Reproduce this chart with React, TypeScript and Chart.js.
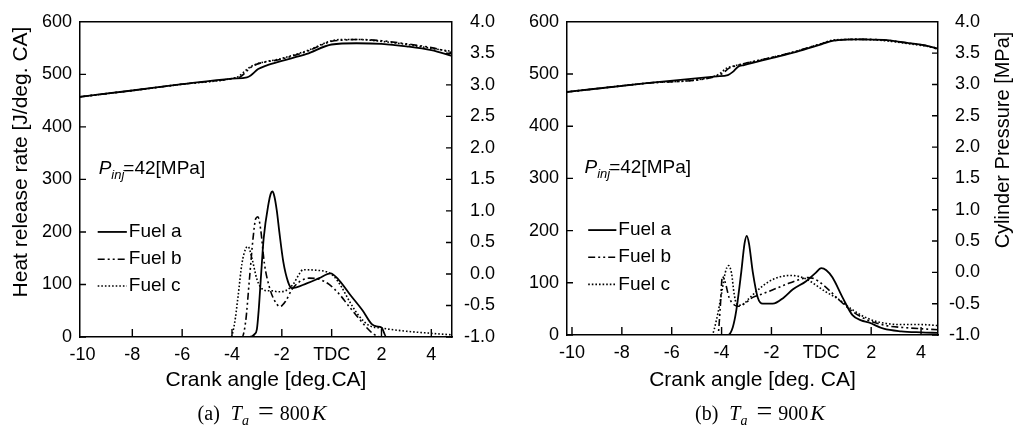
import React, { useEffect, useRef } from "react";
import { Chart, registerables } from "chart.js";

Chart.register(...registerables);

// ---------------- Axis ticks / labels ----------------
const CRANK_TICKS = [-10, -8, -6, -4, -2, 0, 2, 4];
const CRANK_TICK_LABELS = ["-10", "-8", "-6", "-4", "-2", "TDC", "2", "4"];
const FUEL_NAMES = ["Fuel a", "Fuel b", "Fuel c"];

// ---------------- (a) Ta = 800 K : heat release rate [J/deg.CA] ----------------
const HRR800_A_CA = [-10.1, -3.3, -3.1, -3.0, -2.93, -2.83, -2.73, -2.53, -2.45, -2.38, -2.3, -2.2, -2.1, -1.94, -1.75, -1.6, -1.0, -0.5, -0.05, 0.3, 0.75, 1.25, 1.6, 1.8, 2.0, 2.2, 4.83];
const HRR800_A = [0, 0, 5, 15, 50, 120, 187, 255, 272, 277, 268, 240, 200, 143, 105, 93, 102, 112, 121, 108, 80, 50, 25, 20, 18, 0, 0];
const HRR800_B_CA = [-10.1, -3.6, -3.45, -3.3, -3.15, -3.05, -2.96, -2.85, -2.7, -2.5, -2.3, -2.07, -1.85, -1.6, -1.3, -0.9, -0.5, -0.1, 0.3, 0.7, 1.1, 1.4, 1.7, 2.0, 4.83];
const HRR800_B = [0, 0, 30, 110, 190, 225, 229, 205, 140, 95, 70, 58, 68, 90, 105, 112, 110, 100, 82, 58, 35, 18, 5, 0, 0];
const HRR800_C_CA = [-10.1, -4.05, -3.9, -3.75, -3.6, -3.45, -3.35, -3.2, -3.0, -2.8, -2.55, -2.4, -2.15, -1.85, -1.55, -1.3, -1.15, -0.6, -0.2, 0.1, 0.4, 0.75, 1.1, 1.5, 2.0, 3.0, 4.0, 4.83];
const HRR800_C = [0, 0, 25, 80, 140, 168, 172, 150, 110, 92, 88, 88, 86, 88, 100, 120, 128, 127, 124, 115, 95, 65, 40, 22, 17, 11, 7, 4];

// ---------------- (a) Ta = 800 K : cylinder pressure [MPa] ----------------
const P800_A_CA = [-10.1, -8, -6, -4, -3.4, -3.25, -2.95, -2.6, -2, -1, 0, 1, 2, 3, 4, 4.83];
const P800_A = [2.81, 2.91, 3.01, 3.1, 3.12, 3.15, 3.25, 3.31, 3.38, 3.49, 3.64, 3.66, 3.65, 3.61, 3.55, 3.46];
const P800_B_CA = [-10.1, -8, -6, -4, -3.65, -3.4, -3.15, -2, -1, 0, 0.5, 1, 2, 3, 4, 4.83];
const P800_B = [2.81, 2.91, 3.01, 3.1, 3.13, 3.22, 3.3, 3.41, 3.53, 3.69, 3.71, 3.72, 3.7, 3.65, 3.59, 3.51];
const P800_C_CA = [-10.1, -8, -6, -4, -3.75, -3.45, -3.2, -2, -1, 0, 0.5, 1, 2, 3, 4, 4.83];
const P800_C = [2.81, 2.91, 3.01, 3.1, 3.13, 3.23, 3.3, 3.42, 3.54, 3.7, 3.72, 3.72, 3.69, 3.64, 3.58, 3.53];

// ---------------- (b) Ta = 900 K : heat release rate [J/deg.CA] ----------------
const HRR900_A_CA = [-10.2, -3.75, -3.55, -3.41, -3.21, -3.08, -2.99, -2.9, -2.75, -2.55, -2.35, -1.95, -1.5, -1.15, -0.61, -0.25, 0, 0.2, 0.45, 0.85, 1.25, 1.6, 1.9, 2.5, 3.2, 4.0, 4.68];
const HRR900_A = [0, 0, 15, 47, 121, 175, 190, 175, 121, 72, 60, 60, 72, 87, 103, 118, 128, 124, 110, 72, 38, 28, 24, 12, 7, 5, 4];
const HRR900_B_CA = [-10.2, -4.15, -4.05, -3.97, -3.85, -3.7, -3.5, -3.35, -3.0, -2.75, -2.4, -2.08, -1.41, -0.9, -0.55, -0.3, 0.05, 0.4, 0.65, 1.2, 1.75, 2.6, 3.4, 4.0, 4.68];
const HRR900_B = [0, 0, 55, 112, 100, 72, 58, 55, 63, 72, 78, 84, 97, 106, 110, 108, 97, 82, 70, 47, 31, 18, 14, 12, 10];
const HRR900_C_CA = [-10.2, -4.4, -4.2, -4.0, -3.85, -3.72, -3.6, -3.5, -3.4, -3.2, -2.9, -2.5, -2.08, -1.6, -1.2, -0.88, -0.55, -0.2, 0.2, 0.65, 1.2, 1.85, 2.6, 3.4, 4.0, 4.68];
const HRR900_C = [0, 0, 30, 80, 120, 133, 118, 80, 60, 57, 70, 88, 103, 112, 114, 112, 106, 95, 82, 70, 50, 32, 22, 20, 20, 18];

// ---------------- (b) Ta = 900 K : cylinder pressure [MPa] ----------------
const P900_A_CA = [-10.2, -7, -4.2, -3.75, -3.55, -3.35, -3.1, -2, -1, 0, 0.5, 1.5, 2.5, 3.5, 4.2, 4.68];
const P900_A = [2.88, 3.02, 3.13, 3.15, 3.2, 3.28, 3.31, 3.42, 3.52, 3.64, 3.7, 3.72, 3.71, 3.66, 3.62, 3.57];
const P900_B_CA = [-10.2, -7, -4.2, -3.95, -3.7, -3.4, -2, -1, 0, 0.5, 1.5, 2.5, 3.5, 4.2, 4.68];
const P900_B = [2.88, 3.02, 3.13, 3.18, 3.26, 3.3, 3.43, 3.53, 3.65, 3.7, 3.72, 3.71, 3.66, 3.62, 3.56];
const P900_C_CA = [-10.2, -7, -4.3, -4.05, -3.8, -3.45, -2, -1, 0, 0.5, 1.5, 2.5, 3.5, 4.2, 4.68];
const P900_C = [2.88, 3.02, 3.13, 3.18, 3.26, 3.3, 3.43, 3.53, 3.65, 3.71, 3.72, 3.7, 3.65, 3.61, 3.58];

// ---------------- styling ----------------
const FONT = '"Liberation Sans", Arial, sans-serif';
const SERIF = '"Liberation Serif", "Times New Roman", serif';
const FUEL_DASH: number[][] = [[], [7, 3, 2, 3, 2, 3], [1.6, 2]];
const FUEL_WIDTH = [1.8, 1.6, 1.6];

type PanelCfg = {
  left: number;
  width: number;
  height: number;
  areaLeft: number;
  areaRight: number;
  labelRight: number;
  areaTop: number;
  areaBottom: number;
  xMin: number;
  xMax: number;
  xTitle: string;
  hrr: [number[], number[]][];
  press: [number[], number[]][];
  yTitle: { text: string; x: number; y: number; size: number } | null;
  legendX0: number;
  legendX1: number;
  legendRows: number[];
  pinjX: number;
  pinjY: number;
};

const zip = (xs: number[], ys: number[]) => xs.map((x, i) => ({ x, y: ys[i] }));

function makeDecor(cfg: PanelCfg) {
  return {
    id: "decor",
    afterDraw(chart: any) {
      const { ctx, chartArea: ca, scales } = chart;
      const x = scales.x;
      const yL = scales.yL;
      const yR = scales.yR;
      ctx.save();
      // inward tick marks + top frame
      ctx.strokeStyle = "#000";
      ctx.lineWidth = 1.4;
      ctx.setLineDash([]);
      ctx.beginPath();
      for (const t of x.ticks) {
        const px = x.getPixelForValue(t.value);
        if (px <= ca.left + 3) continue;
        ctx.moveTo(px, ca.bottom);
        ctx.lineTo(px, ca.bottom - 8);
      }
      for (const t of yL.ticks) {
        const py = yL.getPixelForValue(t.value);
        ctx.moveTo(ca.left, py);
        ctx.lineTo(ca.left + 6, py);
      }
      for (const t of yR.ticks) {
        const py = yR.getPixelForValue(t.value);
        ctx.moveTo(ca.right, py);
        ctx.lineTo(ca.right - 6, py);
      }
      ctx.moveTo(ca.left, ca.top);
      ctx.lineTo(ca.right, ca.top);
      ctx.stroke();

      // legend
      ctx.fillStyle = "#000";
      ctx.textBaseline = "middle";
      ctx.textAlign = "left";
      ctx.font = `19px ${FONT}`;
      const lx0 = x.getPixelForValue(cfg.legendX0);
      const lx1 = x.getPixelForValue(cfg.legendX1);
      FUEL_NAMES.forEach((name, i) => {
        const py = yL.getPixelForValue(cfg.legendRows[i]);
        ctx.setLineDash(FUEL_DASH[i]);
        ctx.lineWidth = FUEL_WIDTH[i];
        ctx.beginPath();
        ctx.moveTo(lx0, py);
        ctx.lineTo(lx1, py);
        ctx.stroke();
        ctx.setLineDash([]);
        ctx.fillText(name, lx1 + 2, py);
      });

      // P_inj annotation
      const ax = x.getPixelForValue(cfg.pinjX);
      const ay = yL.getPixelForValue(cfg.pinjY);
      ctx.font = `italic 19px ${FONT}`;
      ctx.fillText("P", ax, ay);
      let w = ctx.measureText("P").width;
      ctx.font = `italic 13px ${FONT}`;
      ctx.fillText("inj", ax + w, ay + 6);
      w += ctx.measureText("inj").width;
      ctx.font = `19px ${FONT}`;
      ctx.fillText("=42[MPa]", ax + w - 1, ay);

      // rotated y title (reads bottom to top)
      if (cfg.yTitle) {
        ctx.save();
        ctx.translate(cfg.yTitle.x, cfg.yTitle.y);
        ctx.rotate(-Math.PI / 2);
        ctx.textAlign = "center";
        ctx.textBaseline = "middle";
        ctx.font = `${cfg.yTitle.size}px ${FONT}`;
        ctx.fillText(cfg.yTitle.text, 0, 0);
        ctx.restore();
      }
      ctx.restore();
    },
  };
}

function Panel({ cfg }: { cfg: PanelCfg }) {
  const ref = useRef<HTMLCanvasElement>(null);
  useEffect(() => {
    const datasets: any[] = [];
    cfg.press.forEach(([xs, ys], i) => {
      datasets.push({
        label: FUEL_NAMES[i] + " pressure",
        data: zip(xs, ys),
        yAxisID: "yR",
        borderColor: "#000",
        borderWidth: FUEL_WIDTH[i],
        borderDash: FUEL_DASH[i],
        pointRadius: 0,
        fill: false,
        cubicInterpolationMode: "monotone",
      });
    });
    cfg.hrr.forEach(([xs, ys], i) => {
      datasets.push({
        label: FUEL_NAMES[i],
        data: zip(xs, ys),
        yAxisID: "yL",
        borderColor: "#000",
        borderWidth: FUEL_WIDTH[i],
        borderDash: FUEL_DASH[i],
        pointRadius: 0,
        fill: false,
        cubicInterpolationMode: "monotone",
      });
    });
    const tickFont = { family: FONT, size: 18 };
    const chart = new Chart(ref.current!, {
      type: "line",
      data: { datasets },
      plugins: [makeDecor(cfg)],
      options: {
        responsive: false,
        animation: false,
        devicePixelRatio: 1,
        layout: { padding: { top: cfg.areaTop, left: 0, right: cfg.width - cfg.labelRight, bottom: 0 } },
        plugins: { legend: { display: false }, tooltip: { enabled: false }, title: { display: false } },
        scales: {
          x: {
            type: "linear",
            min: cfg.xMin,
            max: cfg.xMax,
            afterBuildTicks: (s: any) => {
              s.ticks = CRANK_TICKS.map((v) => ({ value: v }));
            },
            afterFit: (s: any) => {
              s.height = cfg.height - cfg.areaBottom;
            },
            ticks: {
              autoSkip: false,
              maxRotation: 0,
              padding: 7,
              color: "#000",
              font: tickFont,
              callback: (v: any) => {
                const idx = CRANK_TICKS.indexOf(Number(v));
                return idx >= 0 ? CRANK_TICK_LABELS[idx] : "";
              },
            },
            grid: { display: false, drawTicks: false },
            border: { display: true, color: "#000", width: 1.5 },
            title: {
              display: true,
              text: cfg.xTitle,
              color: "#000",
              font: { family: FONT, size: 21 },
              padding: { top: 0, bottom: 7 },
            },
          },
          yL: {
            type: "linear",
            position: "left",
            min: 0,
            max: 600,
            afterFit: (s: any) => {
              s.width = cfg.areaLeft;
            },
            ticks: { stepSize: 100, padding: 8, color: "#000", font: tickFont },
            grid: { display: false, drawTicks: false },
            border: { display: true, color: "#000", width: 1.5 },
          },
          yR: {
            type: "linear",
            position: "right",
            min: -1,
            max: 4,
            afterFit: (s: any) => {
              s.width = cfg.labelRight - cfg.areaRight;
            },
            ticks: {
              stepSize: 0.5,
              padding: 11,
              crossAlign: "far",
              color: "#000",
              font: tickFont,
              callback: (v: any) => Number(v).toFixed(1),
            },
            grid: { display: false, drawTicks: false },
            border: { display: true, color: "#000", width: 1.5 },
          },
        },
      } as any,
    });
    return () => chart.destroy();
  }, [cfg]);
  return (
    <div style={{ position: "absolute", left: cfg.left, top: 0, width: cfg.width, height: cfg.height }}>
      <canvas ref={ref} width={cfg.width} height={cfg.height} style={{ width: cfg.width, height: cfg.height, display: "block" }} />
    </div>
  );
}

const LEFT_PANEL: PanelCfg = {
  left: 0,
  width: 510,
  height: 400,
  areaLeft: 80,
  areaRight: 452,
  labelRight: 495,
  areaTop: 15,
  areaBottom: 337,
  xMin: -10.1,
  xMax: 4.83,
  xTitle: "Crank angle [deg.CA]",
  hrr: [
    [HRR800_A_CA, HRR800_A],
    [HRR800_B_CA, HRR800_B],
    [HRR800_C_CA, HRR800_C],
  ],
  press: [
    [P800_A_CA, P800_A],
    [P800_B_CA, P800_B],
    [P800_C_CA, P800_C],
  ],
  yTitle: { text: "Heat release rate [J/deg. CA]", x: 21, y: 162, size: 21 },
  legendX0: -9.39,
  legendX1: -8.22,
  legendRows: [200, 148, 97],
  pinjX: -9.35,
  pinjY: 320,
};

const RIGHT_PANEL: PanelCfg = {
  left: 510,
  width: 511,
  height: 400,
  areaLeft: 57,
  areaRight: 428,
  labelRight: 470,
  areaTop: 13,
  areaBottom: 335,
  xMin: -10.2,
  xMax: 4.68,
  xTitle: "Crank angle [deg. CA]",
  hrr: [
    [HRR900_A_CA, HRR900_A],
    [HRR900_B_CA, HRR900_B],
    [HRR900_C_CA, HRR900_C],
  ],
  press: [
    [P900_A_CA, P900_A],
    [P900_B_CA, P900_B],
    [P900_C_CA, P900_C],
  ],
  yTitle: { text: "Cylinder Pressure [MPa]", x: 493, y: 140, size: 20 },
  legendX0: -9.35,
  legendX1: -8.22,
  legendRows: [201, 149, 97],
  pinjX: -9.5,
  pinjY: 320,
};

function Caption({ center, tag, temp }: { center: number; tag: string; temp: string }) {
  return (
    <div
      style={{
        position: "absolute",
        left: center - 150,
        width: 300,
        top: 398,
        height: 30,
        display: "flex",
        justifyContent: "center",
        alignItems: "baseline",
        fontFamily: SERIF,
        fontSize: 20,
        color: "#000",
        lineHeight: "26px",
        whiteSpace: "nowrap",
      }}
    >
      <span>{tag}</span>
      <span style={{ marginLeft: 11, fontStyle: "italic" }}>T</span>
      <span style={{ fontStyle: "italic", fontSize: 14, position: "relative", top: 5 }}>a</span>
      <span style={{ margin: "0 6px 0 9px", fontSize: 28, lineHeight: "26px" }}>=</span>
      <span>{temp}</span>
      <span style={{ fontStyle: "italic", fontSize: 22, marginLeft: 2 }}>K</span>
    </div>
  );
}

export default function App() {
  return (
    <div style={{ position: "absolute", left: 0, top: 0, width: 1021, height: 436, background: "#fff", overflow: "hidden" }}>
      <Panel cfg={LEFT_PANEL} />
      <Panel cfg={RIGHT_PANEL} />
      <Caption center={262} tag="(a)" temp="800" />
      <Caption center={760} tag="(b)" temp="900" />
    </div>
  );
}
